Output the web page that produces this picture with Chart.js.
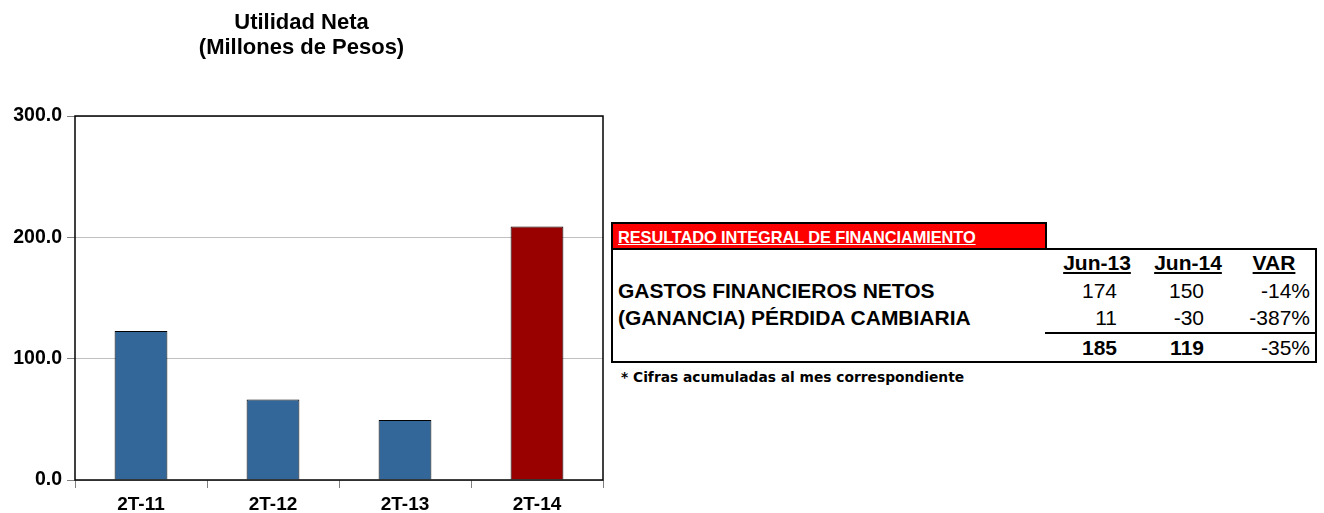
<!DOCTYPE html>
<html>
<head>
<meta charset="utf-8">
<script src="https://cdn.jsdelivr.net/npm/chart.js@4"></script>
<style>
    html, body { margin: 0; padding: 0; background: #fff; }
    body { width: 1324px; height: 513px; position: relative; overflow: hidden; font-family: "Liberation Sans", Arial, sans-serif; }
    #chartBox { position: absolute; left: 0; top: 0; width: 610px; height: 513px; }
    #rifHeader { position: absolute; left: 611px; top: 222px; width: 436px; height: 27px; background: #ff0000; border: 2px solid #000; border-bottom: none; box-sizing: border-box; }
    #rifHeader span { position: absolute; left: 5px; top: 3px; color: #fff; font-weight: bold; font-size: 16.4px; line-height: 20px; text-decoration: underline; letter-spacing: -0.1px; }
    #rifBox { position: absolute; left: 611px; top: 248px; width: 706px; height: 115px; border: 2px solid #000; box-sizing: border-box; }
    .cell { position: absolute; font-size: 21px; line-height: 24px; white-space: nowrap; }
    .lbl { font-weight: bold; left: 618px; }
    .hd { font-weight: bold; text-decoration: underline; text-align: center; width: 100px; }
    .num { text-align: right; width: 100px; }
    #totLine { position: absolute; left: 1045px; top: 332px; width: 271px; height: 0; border-top: 2px solid #000; }
    #nota { position: absolute; left: 621px; top: 368px; font-size: 13.8px; line-height: 18px; font-weight: bold; font-family: "DejaVu Sans", sans-serif; }
</style>
</head>
<body>
<div id="chartBox"><canvas id="myChart"></canvas></div>
<div id="rifHeader"><span>RESULTADO INTEGRAL DE FINANCIAMIENTO</span></div>
<div id="rifBox"></div>
<div id="tabla"></div>
<div id="nota">* Cifras acumuladas al mes correspondiente</div>
<script>
// datos de la gráfica
const periodos = ['2T-11', '2T-12', '2T-13', '2T-14'];
const utilidadNeta = [122.8, 66.4, 49.5, 209.0];
const coloresBarras = ['#336699', '#336699', '#336699', '#990000'];
const tituloGrafica = ['Utilidad Neta', '(Millones de Pesos)'];

// datos de la tabla
const columnasTabla = ['Jun-13', 'Jun-14', 'VAR'];
const conceptos = ['GASTOS FINANCIEROS NETOS', '(GANANCIA) PÉRDIDA CAMBIARIA', ''];
const jun13 = ['174', '11', '185'];
const jun14 = ['150', '-30', '119'];
const variacion = ['-14%', '-387%', '-35%'];

class UtilidadChart {
    constructor() {
        this.chart = null;
        this.init();
    }

    init() {
        this.buildTable();
        this.generateChart();
    }

    buildTable() {
        const tabla = document.getElementById('tabla');
        const centrosEnc = [1097, 1188, 1274];
        const derechas = [1117, 1204, 1310];
        const filasY = [279, 306, 336];

        const addCell = (text, cls, left, top, bold) => {
            const el = document.createElement('div');
            el.className = 'cell ' + cls;
            el.textContent = text;
            el.style.top = top + 'px';
            if (left !== null) el.style.left = left + 'px';
            if (bold) el.style.fontWeight = 'bold';
            tabla.appendChild(el);
        };

        columnasTabla.forEach((c, i) => {
            addCell(c, 'hd', centrosEnc[i] - 50, 251, true);
        });

        conceptos.forEach((c, r) => {
            if (c) addCell(c, 'lbl', null, filasY[r], true);
            const bold = r === 2;
            addCell(jun13[r], 'num', derechas[0] - 100, filasY[r], bold);
            addCell(jun14[r], 'num', derechas[1] - 100, filasY[r], bold);
            addCell(variacion[r], 'num', derechas[2] - 100, filasY[r], false);
        });

        const line = document.createElement('div');
        line.id = 'totLine';
        tabla.appendChild(line);
    }

    generateChart() {
        const ctx = document.getElementById('myChart').getContext('2d');

        // marco negro alrededor del área de la gráfica
        const marco = {
            id: 'marco',
            afterDraw(chart) {
                const a = chart.chartArea;
                const c = chart.ctx;
                c.save();
                c.strokeStyle = '#000';
                c.lineWidth = 1.5;
                c.strokeRect(a.left, a.top, a.right - a.left, a.bottom - a.top);
                c.restore();
            }
        };

        const fuente = { family: 'Liberation Sans, Arial, sans-serif', size: 19.5, weight: 'bold' };

        this.chart = new Chart(ctx, {
            type: 'bar',
            data: {
                labels: periodos,
                datasets: [{
                    data: utilidadNeta,
                    backgroundColor: coloresBarras,
                    borderColor: '#000',
                    borderWidth: 1,
                    categoryPercentage: 0.4,
                    barPercentage: 1
                }]
            },
            options: {
                responsive: true,
                maintainAspectRatio: false,
                animation: false,
                layout: { padding: { left: 0, right: 7, top: 0, bottom: 0 } },
                plugins: {
                    legend: { display: false },
                    tooltip: { enabled: false },
                    title: {
                        display: true,
                        text: tituloGrafica,
                        color: '#000',
                        font: { family: 'Liberation Sans, Arial, sans-serif', size: 22, weight: 'bold', lineHeight: 25 / 22 },
                        padding: { top: 10, bottom: 56 }
                    }
                },
                scales: {
                    y: {
                        min: 0,
                        max: 300,
                        ticks: {
                            stepSize: 100,
                            color: '#000',
                            font: fuente,
                            padding: 5,
                            callback: v => v.toFixed(1)
                        },
                        grid: { color: '#c0c0c0', tickColor: '#808080', tickLength: 8 },
                        border: { display: false },
                        afterFit: s => { s.width = 75; }
                    },
                    x: {
                        ticks: { color: '#000', font: { ...fuente, size: 19 }, padding: 5 },
                        grid: { drawOnChartArea: false, offset: true, tickColor: '#808080', tickLength: 8 },
                        border: { display: false },
                        afterFit: s => { s.height = 33; }
                    }
                }
            },
            plugins: [marco]
        });
    }
}

document.addEventListener('DOMContentLoaded', () => {
    new UtilidadChart();
});
</script>
</body>
</html>
